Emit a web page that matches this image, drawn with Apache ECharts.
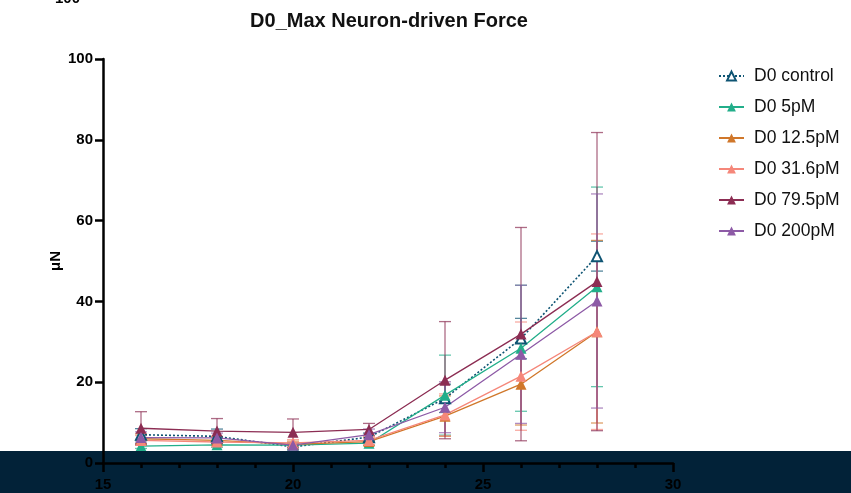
<!DOCTYPE html>
<html>
<head>
<meta charset="utf-8">
<script src="https://cdn.jsdelivr.net/npm/echarts@6/dist/echarts.min.js"></script>
<style>html,body{margin:0;padding:0;background:#fff;}#c{width:851px;height:493px;}</style>
</head>
<body>
<div id="c"></div>
<script>
const xValues = [16, 18, 20, 22, 24, 26, 28];
const seriesNames = ['D0 control', 'D0 5pM', 'D0 12.5pM', 'D0 31.6pM', 'D0 79.5pM', 'D0 200pM'];
const seriesColors = ['#0e5473', '#22ae8a', '#d0772a', '#f5877a', '#8c2d53', '#8d5aa6'];
const controlMean = [7.0, 6.6, 4.0, 6.4, 16.0, 30.8, 51.2];
const controlErr  = [1.5, 1.8, 0.6, 1.0, 3.5, 5.0, 3.7];
const pM5Mean   = [4.2, 4.5, 4.4, 4.9, 16.8, 28.4, 43.6];
const pM5Err    = [0.6, 0.6, 0.6, 0.6, 9.9, 15.6, 24.7];
const pM125Mean = [6.0, 5.6, 4.6, 5.3, 11.6, 19.5, 32.5];
const pM125Err  = [1.2, 1.0, 0.8, 0.9, 5.0, 10.1, 22.6];
const pM316Mean = [5.6, 5.2, 5.0, 5.6, 11.9, 21.5, 32.5];
const pM316Err  = [1.2, 1.0, 0.8, 1.0, 5.2, 13.4, 24.2];
const pM795Mean = [8.6, 7.9, 7.6, 8.3, 20.5, 31.9, 44.9];
const pM795Err  = [4.1, 3.1, 3.3, 1.5, 14.5, 26.4, 36.9];
const pM200Mean = [6.3, 6.2, 4.4, 7.0, 13.8, 26.9, 40.1];
const pM200Err  = [1.4, 1.2, 0.6, 1.4, 6.3, 17.1, 26.5];
const yTicks = [0, 20, 40, 60, 80, 100];
const xTicks = [15, 20, 25, 30];

const means = [controlMean, pM5Mean, pM125Mean, pM316Mean, pM795Mean, pM200Mean];
const errs = [controlErr, pM5Err, pM125Err, pM316Err, pM795Err, pM200Err];

const chart = echarts.init(document.getElementById('c'));
const FONT = 'Liberation Sans, Arial, sans-serif';

const series = [];
means.forEach((m, i) => {
  const color = seriesColors[i];
  series.push({
    type: 'custom',
    name: seriesNames[i] + ' err',
    z: 3,
    silent: true,
    encode: {x: 0, y: 1},
    data: xValues.map((x, k) => [x, m[k], errs[i][k]]),
    renderItem: function (params, api) {
      const x = api.value(0), y = api.value(1), e = api.value(2);
      const hi = api.coord([x, y + e]);
      const lo = api.coord([x, y - e]);
      const w = 6;
      const st = {stroke: color, lineWidth: 1.3, opacity: 0.7};
      return {
        type: 'group',
        children: [
          {type: 'line', shape: {x1: hi[0], y1: hi[1], x2: lo[0], y2: lo[1]}, style: st},
          {type: 'line', shape: {x1: hi[0] - w, y1: hi[1], x2: hi[0] + w, y2: hi[1]}, style: st},
          {type: 'line', shape: {x1: lo[0] - w, y1: lo[1], x2: lo[0] + w, y2: lo[1]}, style: st}
        ]
      };
    }
  });
});
means.forEach((m, i) => {
  const color = seriesColors[i];
  const isControl = i === 0;
  series.push({
    type: 'line',
    name: seriesNames[i],
    z: 4,
    data: xValues.map((x, k) => [x, m[k]]),
    symbol: 'triangle',
    symbolSize: isControl ? 10 : 11,
    showSymbol: true,
    lineStyle: {color: color, width: isControl ? 1.6 : 1.3, type: isControl ? [2, 2] : 'solid'},
    itemStyle: isControl ? {color: '#fff', borderColor: color, borderWidth: 2} : {color: color, borderWidth: 0},
    emphasis: {disabled: true},
    animation: false
  });
});

chart.setOption({
  animation: false,
  backgroundColor: '#fff',
  title: {
    text: 'D0_Max Neuron-driven Force',
    left: 384, top: 6, textAlign: 'center',
    textStyle: {fontFamily: FONT, fontSize: 20, fontWeight: 'bold', color: '#111'}
  },
  legend: {
    data: seriesNames,
    orient: 'vertical',
    left: 713, top: 62,
    itemWidth: 25, itemHeight: 11, itemGap: 13,
    textStyle: {fontFamily: FONT, fontSize: 17.5, color: '#111', padding: [0, 0, 0, 5]},
    selectedMode: false
  },
  grid: {left: 103, right: 178, top: 59, bottom: 30, containLabel: false},
  xAxis: {
    type: 'value', min: 15, max: 30, interval: 5, z: 10,
    axisLine: {show: true, onZero: false, lineStyle: {color: '#000', width: 2.5}},
    axisTick: {show: true, length: 9, lineStyle: {color: '#000', width: 2.5}},
    minorTick: {show: true, splitNumber: 5, length: 5, lineStyle: {color: '#000', width: 2.5}},
    axisLabel: {fontFamily: FONT, fontSize: 15, fontWeight: 'bold', color: '#000', margin: 14,
      formatter: v => xTicks.includes(v) ? String(v) : ''},
    splitLine: {show: false}
  },
  yAxis: {
    type: 'value', min: 0, max: 100, interval: 20, z: 10,
    name: 'μN', nameLocation: 'middle', nameGap: 40, nameRotate: 90, nameMoveOverlap: false,
    nameTextStyle: {fontFamily: FONT, fontSize: 15, fontWeight: 'bold', color: '#000'},
    axisLine: {show: true, lineStyle: {color: '#000', width: 2.5}},
    axisTick: {show: true, length: 8, lineStyle: {color: '#000', width: 2.5}},
    axisLabel: {fontFamily: FONT, fontSize: 15, fontWeight: 'bold', color: '#000', margin: 10,
      formatter: v => yTicks.includes(v) ? String(v) : ''},
    splitLine: {show: false}
  },
  graphic: [
    {type: 'rect', z: 5, zlevel: 0, shape: {x: 0, y: 451, width: 851, height: 42}, style: {fill: '#022238'}},
    {type: 'text', z: 6, x: 50, y: -9, style: {text: '-100 -', font: 'bold 15px ' + FONT, fill: '#000'}}
  ],
  series: series
});
</script>
</body>
</html>
